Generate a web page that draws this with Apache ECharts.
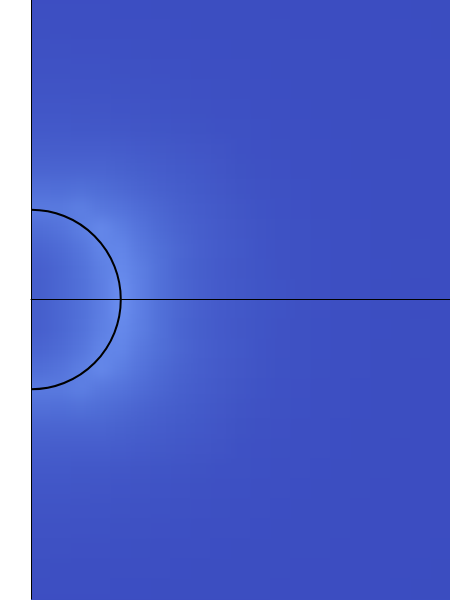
<!DOCTYPE html>
<html><head><meta charset="utf-8">
<script src="https://cdn.jsdelivr.net/npm/echarts@6/dist/echarts.min.js"></script>
<style>
html,body{margin:0;padding:0;background:#fff;}
#wrap{position:relative;width:450px;height:600px;overflow:hidden;background:#fff;}
#clip{position:absolute;left:31px;top:0;width:419px;height:600px;overflow:hidden;}
#heat{position:absolute;left:-20px;top:-40px;width:460px;height:680px;filter:blur(7px);}
#over{position:absolute;left:0;top:0;width:450px;height:600px;}
</style>
</head><body>
<div id="wrap"><div id="clip"><div id="heat"></div></div><div id="over"></div></div>
<script>
// Field intensity, one array per horizontal band of cells,
// r00 = band touching the symmetry axis, r14 = band at the top/bottom edge.
// Columns run from the wall (left) to the right edge.
const r00 = [26,37,50,69,94,71,50,36,27,20,16,12,9.5,7,6,4.5,4,3,3,2,2];
const r01 = [27,37,52,72,87,70,50,35,26,20,15.5,12,9,7,5.5,4.4,3.7,3.2,2.7,2.2,1.9];
const r02 = [35,43,58,79,82,62,48,36,27,21,16,11.5,8.6,6.8,5.3,4.2,3.6,3.1,2.6,2.1,1.8];
const r03 = [47,55,70,85,70,55,42,32,25,19.5,15,10.6,7.9,6.4,5,4,3.5,3,2.5,2,1.75];
const r04 = [65,64,72,60,55,45,36,28,22,17.5,13.5,9.5,7.3,6,4.7,3.8,3.35,2.9,2.4,1.95,1.7];
const r05 = [49,47,50,46,40,34,28,23,19,15,10.7,8.2,6.6,5.4,4.3,3.6,3.2,2.75,2.3,1.9,1.65];
const r06 = [34,33,34,34,30,26,22,19,16,13,9.1,7.1,5.9,4.7,3.9,3.4,3,2.55,2.1,1.8,1.55];
const r07 = [24.4,23.9,24,24,22,20,17.5,15,13,11,7.4,6.2,5.2,4.2,3.6,3.2,2.8,2.35,1.9,1.7,1.45];
const r08 = [18.3,17.9,17,16,14.9,13.5,12.1,10.7,9.2,7.5,6.3,5.4,4.4,3.7,3.3,2.9,2.55,2.1,1.8,1.55,1.4];
const r09 = [13.9,13.7,13.2,12.6,11.8,10.7,9.8,8.6,7.2,6.2,5.4,4.4,3.8,3.35,3,2.65,2.3,1.9,1.65,1.45,1.35];
const r10 = [10.9,10.7,10.3,9.8,9.3,8.6,7.7,6.5,5.8,5.2,4.4,3.8,3.3,3,2.7,2.4,2,1.75,1.55,1.35,1.25];
const r11 = [8.5,8.4,8.1,7.7,7.2,6.5,5.8,5.3,4.8,4.1,3.6,3.25,3,2.7,2.4,2.1,1.75,1.6,1.4,1.3,1.2];
const r12 = [6.5,6.3,6.1,5.7,5.4,5.1,4.8,4.3,3.8,3.4,3.1,2.9,2.65,2.4,2.1,1.8,1.6,1.45,1.3,1.2,1.05];
const r13 = [4.9,4.85,4.8,4.6,4.4,4.1,3.7,3.4,3.1,2.95,2.75,2.55,2.3,2.05,1.8,1.6,1.45,1.3,1.25,1.1,0.95];
const r14 = [3.9,3.85,3.7,3.55,3.4,3.2,3,2.9,2.75,2.6,2.4,2.2,2,1.75,1.6,1.45,1.3,1.25,1.1,1,0.85];

// Cylinder: centre x, centre y, radius (data units)
const cylinder = [[0, 0, 1]];
const xRange = [0, 4.6667];
const yRange = [-3.3333, 3.3333];

// Upper half (top to axis) then lower half (axis to bottom); the picture is mirror-symmetric.
// A copy of the wall column is put on the far side of the wall so the smoothing has no edge.
const upperRows = [r14, r13, r12, r11, r10, r09, r08, r07, r06, r05, r04, r03, r02, r01, r00];
const rows = upperRows.concat(upperRows.slice().reverse()).map(row => [row[0]].concat(row));
const cells = [];
rows.forEach((row, k) => row.forEach((v, i) => cells.push([i, k, v])));
const xCats = rows[0].map((_, i) => String(i));
const yCats = rows.map((_, k) => String(k));

const heat = echarts.init(document.getElementById('heat'), null, {renderer: 'canvas'});
heat.setOption({
  animation: false,
  backgroundColor: '#3c4dc1',
  grid: {left: 0, top: 39, width: 440, height: 600},
  xAxis: {type: 'category', data: xCats, show: false},
  yAxis: {type: 'category', data: yCats, inverse: true, show: false},
  visualMap: {show: false, min: 0, max: 100, inRange: {color: ['#3b4cc0', '#5170d8', '#6d92f2']}},
  series: [{type: 'heatmap', data: cells, itemStyle: {borderWidth: 0}}]
});

const over = echarts.init(document.getElementById('over'), null, {renderer: 'canvas'});
const valueAxis = {
  axisTick: {show: false}, axisLabel: {show: false}, splitLine: {show: false},
  axisLine: {show: true, onZero: true, lineStyle: {color: '#000', width: 1}}, z: 10
};
over.setOption({
  animation: false,
  grid: {left: 31, top: -1, width: 420, height: 600},
  xAxis: Object.assign({type: 'value', min: xRange[0], max: xRange[1]}, valueAxis),
  yAxis: Object.assign({type: 'value', min: yRange[0], max: yRange[1]}, valueAxis),
  series: [{
    type: 'custom', clip: true, data: cylinder,
    renderItem: function (params, api) {
      const c = api.coord([api.value(0), api.value(1)]);
      const s = api.size([api.value(2), api.value(2)]);
      return {
        type: 'arc',
        shape: {cx: c[0], cy: c[1], r: s[0], startAngle: -Math.PI / 2, endAngle: Math.PI / 2, clockwise: true},
        style: {stroke: '#000', lineWidth: 2, fill: null}
      };
    }
  }]
});
</script>
</body></html>
